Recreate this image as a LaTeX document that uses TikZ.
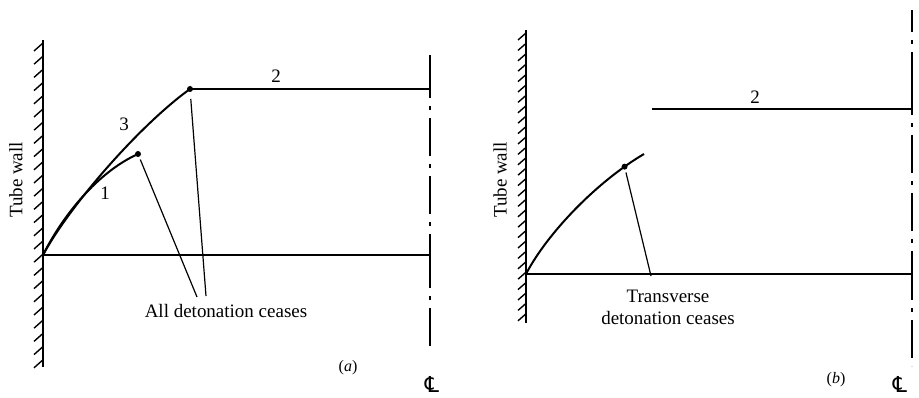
\documentclass[tikz,border=0pt]{standalone}
\usepackage{fontspec}
\setmainfont{Liberation Serif}
\newfontfamily\symfont{DejaVu Sans}
\begin{document}
\begin{tikzpicture}[x=1pt,y=-1pt,
  thickline/.style={line width=2pt},
  leader/.style={line width=1.2pt},
  wall/.style={line width=2.2pt},
  hatch/.style={line width=1.4pt},
  cl/.style={line width=2pt, dash pattern=on 38pt off 8pt on 4pt off 8pt, dash phase=38pt},
  lbl/.style={font=\fontsize{19}{22}\selectfont, inner sep=0pt},
  sublbl/.style={font=\fontsize{16}{18}\selectfont, inner sep=0pt},
  clsym/.style={font=\symfont\fontsize{22}{24}\selectfont, inner sep=0pt},
  dotmark/.style={circle, fill, inner sep=0pt, minimum size=6pt}]
\useasboundingbox (0,0) rectangle (919,398);

% ---------------- panel (a) ----------------
\coordinate (wa-top) at (43,40);
\coordinate (wa-bot) at (43,367);
\draw[wall] (wa-top) -- (wa-bot);
\foreach \y in {43,56.2,...,362} \draw[hatch] (43,\y) -- ++(-9,8);

\coordinate (oa) at (43,255);
\coordinate (e3) at (190,89);
\coordinate (e1) at (138,154);
\coordinate (r2a) at (430,89);
\coordinate (rba) at (430,255);
\draw[thickline] (oa) .. controls (70,205) and (140,125) .. (e3);
\draw[thickline] (oa) .. controls (63,215) and (98,172) .. (e1);
\node[dotmark] (d1) at (e1) {};
\node[dotmark] (d3) at (e3) {};
\draw[thickline] (e3) -- (r2a);
\draw[thickline] (oa) -- (rba);

% centre line (a)
\coordinate (cla-top) at (430,55);
\coordinate (cla-s1) at (430,98);
\coordinate (cla-s2) at (430,245);
\coordinate (cla-s3) at (430,288);
\coordinate (cla-bot) at (430,352);
\draw[thickline] (cla-top) -- (cla-s1);
\draw[cl] (cla-s1) -- (cla-s2);
\draw[thickline] (cla-s2) -- (cla-s3);
\draw[cl] (cla-s3) -- (cla-bot);

\node[lbl] (n3) at (124,124) {3};
\node[lbl] (n1) at (105,193) {1};
\node[lbl] (n2a) at (276,76) {2};
\node[lbl, rotate=90] (twa) at (16,180) {Tube wall};
\node[lbl] (all) at (226,311) {All detonation ceases};
\coordinate (la1) at (197,297);
\coordinate (la2) at (206,296);
\draw[leader, shorten <=6pt] (e1) -- (la1);
\draw[leader, shorten <=10pt] (e3) -- (la2);
\node[sublbl] (capa) at (348,368) {(\textit{a})};
\node[clsym] (syma) at (432,384) {℄};

% ---------------- panel (b) ----------------
\coordinate (wb-top) at (526,30);
\coordinate (wb-bot) at (526,323);
\draw[wall] (wb-top) -- (wb-bot);
\foreach \y in {33,43.4,...,318} \draw[hatch] (526,\y) -- ++(-8,7);

\coordinate (ob) at (526,274);
\coordinate (eb) at (644,154);
\coordinate (l2b) at (652,109);
\coordinate (r2b) at (912,109);
\coordinate (rbb) at (912,274);
\draw[thickline] (ob) .. controls (548,232) and (598,181) .. (eb) coordinate[pos=0.86] (db);
\node[dotmark] (dotb) at (db) {};
\draw[thickline] (l2b) -- (r2b);
\draw[thickline] (ob) -- (rbb);

% centre line (b)
\coordinate (clb-top) at (912,10);
\coordinate (clb-s1) at (912,32);
\coordinate (clb-s2) at (912,57);
\coordinate (clb-s3) at (912,115);
\coordinate (clb-s4) at (912,257);
\coordinate (clb-s5) at (912,300);
\coordinate (clb-bot) at (912,366);
\draw[thickline] (clb-top) -- (clb-s1);
\draw[cl] (clb-s1) -- (clb-s2);
\draw[thickline] (clb-s2) -- (clb-s3);
\draw[cl] (clb-s3) -- (clb-s4);
\draw[thickline] (clb-s4) -- (clb-s5);
\draw[cl] (clb-s5) -- (clb-bot);

\node[lbl] (n2b) at (755,97) {2};
\node[lbl, rotate=90] (twb) at (500,180) {Tube wall};
\node[lbl, align=center] (tdb) at (668,307) {Transverse\\detonation ceases};
\coordinate (lbb) at (651,276);
\draw[leader, shorten <=6pt] (db) -- (lbb);
\node[sublbl] (capb) at (836,380) {(\textit{b})};
\node[clsym] (symb) at (900,384) {℄};
\end{tikzpicture}
\end{document}
